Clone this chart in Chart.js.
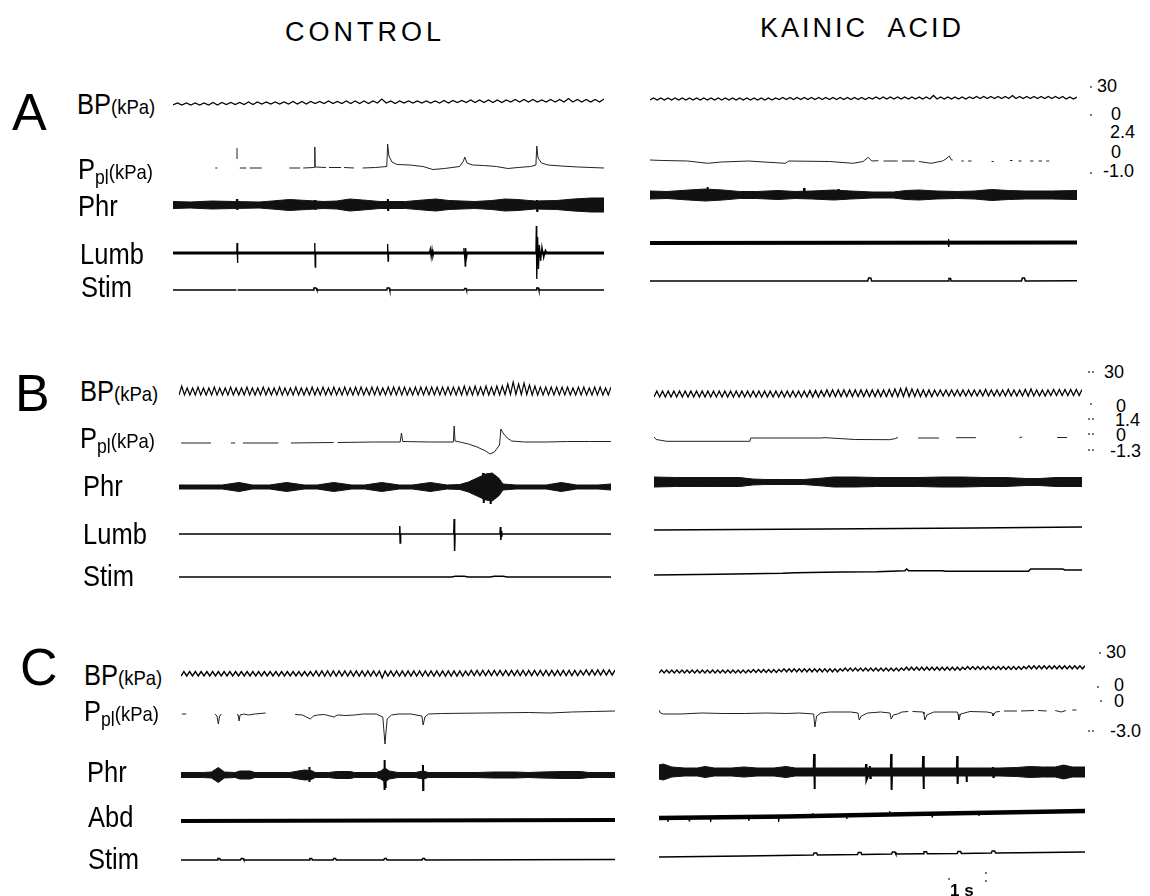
<!DOCTYPE html>
<html>
<head>
<meta charset="utf-8">
<script src="https://cdn.jsdelivr.net/npm/chart.js@4.4.1/dist/chart.umd.min.js"></script>
<style>
body { margin: 0; background: #fff; }
#fig { position: relative; width: 1150px; height: 896px; overflow: hidden; font-family: "Liberation Sans", Arial, sans-serif; color: #000; }
.t { position: absolute; white-space: nowrap; line-height: 1; }
.lab { transform: scaleX(0.88); transform-origin: 0 0; }
.u { font-size: 21px; }
.s { font-size: 20px; position: relative; top: 5px; }
.dot { position: absolute; width: 2px; height: 2px; background: #777; }
canvas { position: absolute; }
</style>
</head>
<body>
<div id="fig"></div>
<script>
// blood pressure: alternating trough / peak per cardiac cycle (px above trace zero)
const bpA_ctrl = [
    0,2,0,2,0,2,0,2,0,2.5,0,2.5,0.5,2.5,
    0.5,2.5,0.5,3,0.5,3,1,3,1,3,1,3,1,3.5,
    1,3.5,1,3.5,1.5,3.5,1.5,4,1.5,3.5,1.5,4,1.5,4,
    1.5,4,1.5,4,2,6,2,4,1.5,4,2,4,2,4,
    2,4,2,4,2,4.5,2,4.5,2.5,4.5,2.5,5,2.5,5,
    2.5,5,2.5,5,2.5,5,3,5.5,3,5.5,3,5.5,3,5,
    3,5.5,3,5.5,3,6.5,3,5.5,3,5.5,3,5.5,3,6
];
const bpA_kain = [
    0,2,0,2,0,2,0,2,0,2,0,2,0,2,0,2,0,2,0,2,
    0,2,0,2,0,2,0,2,0,2,0,2,0,2,0,2,0.5,2.5,0.5,2.5,
    0.5,2.5,0.5,2.5,0.5,2.5,0.5,2.5,0.5,2.5,0.5,2.5,0.5,2.5,0.5,2.5,0.5,2.5,0.5,2.5,
    0.5,2.5,1,3,1,3,1,3,1,3,1,3,1,3,1,3,1,3,1,4.5,
    1,3,1,3,1,3,1,3,1,3,1.5,3.5,1.5,3.5,1.5,3.5,1.5,3.5,1.5,3.5,
    1.5,4.5,1.5,3.5,1.5,3.5,1.5,3.5,1.5,3.5,1.5,3.5,1.5,3.5,1.5,3.5,1,3,1,3
];
const bpB_ctrl = [
    0,9,0,7,0,7,0,8,0,7,0,7,0,8,0,7,0,7,0,8,
    0,7,0,7,0,8,0,7,0,7,0,8,0,7,0,7,0,8,0,7,
    0,7,0,8,0,7,0,7,0,8,0,7,0,8,0,7,0,8,0,7,
    0,8,0,7,0,8,0,8,0,7,0,8,0,8,0,7,0,8,0,8,
    0,8,0,8,0,7,0,8,0,8,0,8,0,8,0,8,0,8,0,8,
    0,8,0,8,0,9,0,8,0,9,0,8,0,9,0,8,0,9,0,9,
    0.5,11,0.5,13,0.5,11,0.5,12,0.5,10,0,9,0,8,0,8,0,8,0,8,
    0,8,0,8,0,7,0,8,0,8,0,7,0,8,0,8,0,7,0,8
];
const bpB_kain = [
    0,6,0,6,0,6,0,6,0,6,0,6,0,6,0,6,0,6,0,6,
    0,6,0,6,0,6,0,6,0,6,0,6,0,6,0,6,0,6,0,6,
    0,6,0,6,0,6,0,6,0,6,0,6,0,6,0,6.5,0,6.5,0,6.5,
    0.5,7,0.5,7,0.5,7,0.5,7,0.5,7,0.5,7,0.5,7,0.5,7,0.5,7,0.5,7,
    0.5,7,0.5,7.5,0.5,8,0.5,8.5,0.5,9,0.5,8,0.5,7.5,0.5,7,0.5,7,0.5,7,
    1,7,1,7,1,7,1,7,1,7,1,7,1,7,1,7,1,7.5,1,7,
    1,7,1,7,1,7.5,1,7,1,7,1,7.5,1,8,1,7,1,7,1,7,
    1.5,7.5,1.5,7.5,1.5,7.5,1.5,7.5,1.5,7.5,1.5,7.5
];
const bpC_ctrl = [
    0,4.5,0,4.5,0,4.5,0,4.5,0,4.5,0,4.5,0,4.5,0,4.5,0,4.5,0,4.5,
    0,4.5,0,4.5,0,4.5,0,4.5,0,4.5,0,4.5,0,4.5,0,4.5,0,4.5,0,4.5,
    0,4.5,0,4.5,0,4.5,0,5,0,5,0,5,0,5,0,5,0,5,0,5,
    0,5,0,5,0,5,0,5,0,5,-2,5,0,5,0,5,0,5,0,5,
    0,5,0,5,0,5,0,5,0,5,0,5,0,5,0,5,0,5,0,5,
    0.5,5.5,0.5,5.5,0.5,5.5,0.5,5.5,0.5,5.5,0.5,5.5,0.5,5.5,0.5,5.5,0.5,5.5,0.5,5.5,
    0.5,5.5,0.5,5.5,0.5,5.5,0.5,5.5,0.5,5.5,0.5,5.5,0.5,5.5,0.5,5.5,0.5,5.5,0.5,5.5,
    1,6,1,6,1,6,1,6,1,6,1,6
];
const bpC_kain = [
    0,3,0,3,0,3,0,3,0,3,0,3,0,3,0,3,0,3,0,3,0,3,0,3,
    0,3,0,3,0,3,0,3,0,3,0,3,0.5,3.5,0.5,3.5,0.5,3.5,0.5,3.5,0.5,3.5,0.5,3.5,
    1.2,4.2,1.2,4.2,1.2,4.2,1.2,4.2,1.2,4.2,1.2,4.2,1.2,4.2,1.2,4.2,1.2,4.2,1.2,4.2,1.2,4.2,1.2,4.2,
    2,5,2,5,2,5,2,5,2,5,2,5,2,5,2,5,2,5,2,5,2,5,2,5,
    2.8,5.8,2.8,5.8,2.8,5.8,2.8,5.8,2.8,5.8,2.8,5.8,2.8,5.8,2.8,5.8,2.8,5.8,2.8,5.8,2.8,5.8,2.8,5.8,
    3.5,6.5,3.5,6.5,3.5,6.5,3.5,6.5,3.5,6.5,3.5,6.5,3.5,6.5,3.5,6.5,3.5,6.5,3.5,6.5,3.5,6.5,3.5,6.5,
    4.2,7.2,4.2,7.2,4.2,7.2,4.2,7.2,4.2,7.2,4.2,7.2,4.2,7.2,4.2,7.2,4.2,7.2,4.2,7.2,4.2,7.2,4.2,7.2
];

// pleural pressure: [x % of sweep, px], null = pen gap
const pplA_ctrl = [
    [9.8,0],[10.3,0],[10.4,null],
    [14.85,9],[14.85,20],[14.9,null],
    [15.5,0],[17,0],[17.1,null],[17.8,0],[20.6,0],[20.7,null],
    [27,0],[29.5,0],[29.6,null],[30.2,0],[32.8,0.5],[32.9,21],[33,1],[35.5,0.5],[35.6,null],
    [36.2,0.5],[39,0.5],[39.1,null],[39.7,0.5],[42,0],[42.1,null],
    [44,0],[47,0.5],[49.6,1.5],[49.8,24],[50.1,12],[50.8,6],[52,3.5],[55,3],[58,1.5],[60.3,-1.5],
    [63,-0.5],[66.5,1.5],[67.4,7],[67.7,11],[68.2,5],[69.5,3],[72,2.5],[75,1.5],[77.7,-0.5],[80,0.5],
    [83,1.5],[84.2,3],[84.4,22],[84.7,10],[85.5,5],[87,3],[90,2],[94,1],[100,0]
];
const pplA_kain = [
    [0,1],[3,0.5],[8.8,0],[13.5,-2.3],[16.7,-1],[23,0],[31.7,-2.3],[32.5,0],[42,-0.5],[47.6,-2.3],
    [49.9,-0.5],[51.1,3.7],[51.9,0],[53.5,0.3],[53.6,null],[54.7,0],[58,0],[58.1,null],[59,0],[62,0],
    [62.1,null],[63,-0.5],[65.8,-2.3],[68.5,0],[69.3,2],[70.1,5],[70.6,1],[70.9,1],[71,null],
    [72.9,0],[73.5,0],[73.6,null],[74.5,0],[75.3,0],[75.4,null],[80,-0.5],[80.5,-0.5],[80.6,null],
    [84.3,0.5],[84.9,0.5],[85,null],[86.3,0],[87,0],[87.1,null],[89,0],[89.8,0],[89.9,null],
    [91,0],[91.8,0],[91.9,null],[92.8,0],[93.5,0]
];
const pplB_ctrl = [
    [0.5,0],[7.4,0],[7.5,null],[12,0],[13,0],[13.1,null],[14.8,0],[23,0],[23.1,null],
    [25.9,0],[35.8,0.5],[35.9,null],[36.7,0.5],[45,1],[51.2,1],[51.5,10],[51.8,1.5],[58,1],
    [63.5,1],[63.7,17],[63.9,2],[65,1],[67,-1],[69,-4],[71,-8],[72,-11],[73,-9],[74.2,-2],
    [74.5,14],[75,10],[76,5],[77,2],[80,1],[85,1],[90,1.5],[95,1.5],[100,1.5]
];
const pplB_kain = [
    [0,1],[0.5,-1.5],[3,-3.3],[22.4,-3.3],[22.6,0],[39,0],[40,0.3],[47,-1.5],[55,-1.7],[56.5,-0.5],
    [57,0.7],[57.2,null],[61.7,0],[66.6,0],[66.8,null],[70.6,0.3],[75.2,0.3],[75.4,null],
    [85.4,0.3],[86,1],[86.2,null],[94.2,0.5],[96.5,0.5]
];
const pplC_ctrl = [
    [0.2,0],[1.2,0],[1.3,null],
    [7.8,0],[8.3,-2],[8.6,-10],[8.9,-2],[9.3,0],[9.4,null],
    [13,0],[13.2,-2],[13.4,-7],[13.6,-1],[14.5,0],[15.5,-1],[17,0],[19.5,1],[19.7,null],
    [26.3,-0.5],[28,-1],[29.8,-5],[30.5,-2],[31.5,-1],[33,-0.5],[35.3,-3],[36,-1],[38,-1.5],[40,-1],
    [42,0],[45,0],[46.5,-3],[47,-30],[47.5,-5],[48.5,-1],[50,0],[53,0],[55.5,-2],[55.8,-11],[56.2,-3],
    [57,0],[60,0.5],[70,1],[80,1.5],[85,1],[90,2],[95,2.5],[100,3]
];
const pplC_kain = [
    [0,2],[0.3,-1],[1,-2],[5,-2],[10,-1],[15,-1.5],[20,-1.5],[25,-1],[30,-1.5],[33,-1],[36.3,-2],
    [36.6,-15],[37,-4],[38,-1],[40,0],[45,0],[46.7,-1],[47,-8],[47.5,-4],[49,-1],[52,0],[54.2,-1],
    [54.5,-7],[55,-3],[56,-2],[57,0],[58.5,0.5],[58.6,null],[59.5,0.5],[62,0],[62.2,-2],[62.4,-8],
    [62.9,-3],[64.5,0],[70,0],[70.2,-2],[70.4,-8],[70.8,-2],[73,0.5],[77,0],[78.2,-1],[78.4,-4],
    [79,0],[80,0.5],[80.1,null],[81,1],[84,1],[84.1,null],[85,1],[88,1.5],[88.1,null],[89,1.5],
    [91,1],[91.1,null],[93,1.5],[94.4,0],[95.5,1.5],[95.6,null],[97,2],[98,2]
];

// phrenic activity: envelope half-height (px) along the sweep, plus single spikes
const phrA_ctrl_x = [0,4,9,14,20,23,27,31,35,38,41,44,48,54,58,61,64,70,74,77,80,84,89,93,97,100];
const phrA_ctrl_h = [3.5,3,4,3.5,3,4,5.5,4.5,3.5,4,6,5,3.5,3.5,5,6,4.5,3.5,4.5,6,5.5,4,4.5,6,7,7];
const phrA_ctrl_spk = [[0,0],[14.8,0],[14.85,6],[14.9,-5],[14.95,0],[32.9,0],[32.95,5],[33,-5],[33.05,0],
    [49.8,0],[49.85,6],[49.9,-5],[49.95,0],[84.4,0],[84.45,5],[84.5,-6],[84.55,0],[100,0]];
const phrA_kain_x = [0,4,9,13,17,21,25,30,34,38,43,47,52,57,60,63,67,72,76,80,84,88,94,100];
const phrA_kain_h = [4,3.5,5,6,5,3.5,3.5,4.5,3.5,4,5,4,3,3,4.5,5,4,3.5,4,5.5,4.5,4,4,4.5];
const phrA_kain_spk = [[0,0],[13.4,0],[13.5,8],[13.6,0],[36,0],[36.1,7],[36.2,0],[44,0],[44.1,6],[44.2,0],[100,0]];
const phrB_ctrl_x = [0,5,10,13.9,17,21,24.9,29,32,35.8,40,43,46.9,51,54,58.2,62,65,67,69,71,72.5,74,75,78,85,88.5,92,97,100];
const phrB_ctrl_h = [2,2,2,4.5,2,2,4.5,2,2,4.5,2,2,4.5,2,2,4.5,2,2.5,5,9,13,14,9,3,2,2,4.5,2,2,3];
const phrB_ctrl_spk = [[0,0],[70.3,0],[70.4,14],[70.5,-16],[70.6,0],[72,0],[72.1,12],[72.2,-17],[72.3,0],[100,0]];
const phrB_kain_x = [0,5,10,15,20,23,26,30,35,39.5,42,47,52,57,62,67,72,77,82,87,90,94,100];
const phrB_kain_h = [5,4.5,4.5,4.5,4.5,3,2.5,2.5,2.5,4,5,5,4.5,4.5,4.5,5,5,4.5,4.5,3.5,3.5,4.5,4.5];
const phrB_kain_spk = [[0,0],[100,0]];
const phrC_ctrl_x = [0,5,7,8.6,10,12.5,13.5,16,17,25,27,28.5,30,31,34,36,39,40,45,46,47,48,50,54,55.8,57,59,62,68,72,77,80,83,88,92,94,100];
const phrC_ctrl_h = [2.5,2.5,3,7.5,3,2.5,4,4,2.5,2.5,4,5,4.5,2.5,2.5,3.5,3.5,2.5,2.5,4,7,4,2.5,2.5,4,2.5,2.5,2.5,2.5,3,3,2.5,3,3.5,3.5,2.5,2.5];
const phrC_ctrl_spk = [[0,0],[29.5,0],[29.55,8],[29.6,-7],[29.65,0],[46.8,0],[46.85,15],[46.9,-15],[47,10],[47.1,-12],
    [47.15,0],[55.7,0],[55.75,10],[55.8,-15],[55.85,0],[100,0]];
const phrC_kain_x = [0,1,3,6,9,10.8,13,17,20,23,27,29.8,32,36,40,45,50,55,60,65,70,75,80,84,87,90,93,95,97,100];
const phrC_kain_h = [7,8,5,4,4,5.5,4,4,5,4,4,5.5,4,4,4,4,4,4,4,4,4,4,4,4.5,5.5,5,5,7,5,5];
const phrC_kain_spk = [[0,0],[36.3,0],[36.4,18],[36.5,-17],[36.6,0],[48.5,0],[48.6,8],[48.7,-8],[49.4,0],[49.5,6],
    [49.6,-6],[49.7,0],[54.4,0],[54.5,18],[54.6,-18],[54.7,0],[61.9,0],[62,16],[62.1,-17],[62.2,0],
    [69.9,0],[70,16],[70.1,-12],[70.2,0],[72,0],[72.1,4],[72.2,-10],[72.3,0],[78.3,0],[78.4,5],[78.5,-5],
    [78.6,0],[94.3,0],[94.4,5],[94.5,-5],[94.6,0],[100,0]];

// lumbar / abdominal nerve
const lumbA_ctrl_base = [[0,0],[100,0]];
const lumbA_ctrl_spk = [[0,0],[14.8,0],[14.85,10],[14.95,-10],[15.05,0],[32.8,0],[32.9,10],[33,-14],[33.1,0],
    [49.7,0],[49.8,9],[49.9,-8],[50,0],[59.5,0],[59.7,4],[59.9,-4],[60.1,3.5],[60.3,-3.5],[60.5,0],
    [67.3,0],[67.5,5],[67.7,-5],[67.8,-13],[67.9,5],[68.1,-5],[68.3,0],
    [84.2,0],[84.3,27],[84.4,-26],[84.6,16],[84.8,-16],[85,8],[85.3,-8],[85.6,6],[86,-5],[86.4,3],[86.8,0],[100,0]];
const lumbA_kain_base = [[0,0],[100,0.5]];
const lumbA_kain_spk = [[0,0],[69.8,0.3],[69.9,4],[70,-4],[70.1,0.3],[100,0.5]];
const lumbB_ctrl = [[0,0],[51,0],[51.1,8],[51.2,-9],[51.3,0],[63.6,0],[63.7,15],[63.8,-17],[63.9,0],
    [74.3,0],[74.4,7],[74.5,-6],[74.6,3],[74.7,-3],[74.8,0],[100,0]];
const lumbB_kain = [[0,0],[40,1],[75,2],[100,3]];
const abdC_ctrl = [[0,0],[100,1]];
const abdC_kain_base = [[0,0],[30,1.5],[60,4],[100,7]];
const abdC_kain_spk = [[0,0],[2,0],[2.1,-4],[2.2,0],[7,0.3],[7.1,-3],[7.2,0.3],[12,0.6],[12.1,-4],[12.2,0.6],
    [21,1],[21.1,-3],[21.2,1],[28,1.4],[28.1,-4],[28.2,1.4],[36,2],[36.1,5],[36.2,2],[44,2.7],[44.1,-1],
    [44.2,2.7],[54,3.5],[54.1,7],[54.2,3.5],[64,4.3],[64.1,1],[64.2,4.3],[75,5.2],[75.1,2],[75.2,5.2],[100,7]];

// stimulus marker
const stimA_ctrl = [[0,0],[14.7,0],[14.8,null],[15,0],[32.5,0],[32.7,2],[33.2,2],[33.4,0],[49.6,0],[49.7,2],[50.2,2],
    [50.3,0],[67.5,0],[67.7,1.5],[68,1.5],[68.1,0],[84.3,0],[84.4,2],[84.8,2],[84.9,0],[100,0]];
const stimA_kain = [[0,0],[51,0],[51.2,3],[51.7,3],[51.9,0],[69.9,0],[70,2.5],[70.4,2.5],[70.5,0],[87,0],[87.2,3],
    [87.7,3],[87.9,0],[100,0.3]];
const stimB_ctrl = [[0,0],[63,0],[64,0.7],[66,0.7],[67,0],[72,0],[73,0.7],[75,0.7],[76,0],[100,0]];
const stimB_kain = [[0,0],[15,0.7],[30,1.7],[33,2.3],[40,2.7],[44,3],[52,3.3],[58.6,4.3],[59,6],[59.5,4.3],[63,4.3],
    [67.5,4.3],[68,3.7],[87.5,3.7],[88,6],[95.5,6],[96,5],[100,5]];
const stimC_ctrl = [[0,0],[8.3,0],[8.5,1.5],[8.9,1.5],[9.1,0],[13.7,0],[13.9,1.5],[14.3,1.5],[14.5,0],[29.5,0],
    [29.7,1.5],[30.1,1.5],[30.3,0],[35,0],[35.2,1.5],[35.6,1.5],[35.8,0],[46.7,0],[46.9,1.5],[47.3,1.5],
    [47.5,0],[55.5,0],[55.7,1.5],[56.1,1.5],[56.3,0],[100,0.5]];
const stimC_kain = [[0,0],[20,1],[36.2,2],[36.4,4],[37,4],[37.2,2],[46.6,2.5],[46.8,4.5],[47.4,4.5],[47.6,2.5],
    [54.6,3],[54.8,5],[55.4,5],[55.6,3],[62,3.3],[62.2,5.3],[62.8,5.3],[63,3.3],[70,3.6],[70.2,5.6],
    [70.8,5.6],[71,3.6],[78,4],[78.2,6],[78.8,6],[79,4],[90,4.5],[100,5]];

// calibration numbers at the right edge
const calA = [['30', 1097, 92], ['0', 1111, 120], ['2.4', 1110, 138], ['0', 1111, 158], ['-1.0', 1103, 177]];
const calB = [['30', 1104, 378], ['0', 1116, 412], ['1.4', 1115, 426], ['0', 1116, 441], ['-1.3', 1110, 457]];
const calC = [['30', 1106, 658], ['0', 1114, 691], ['0', 1114, 707], ['-3.0', 1110, 737]];

const fig = document.getElementById('fig');

function wave(values, width) {
    return {
        data: values.map((v, i) => [i * 100 / (values.length - 1), v]),
        borderColor: '#000', borderWidth: width, pointRadius: 0
    };
}

function path(points, width, color) {
    return { data: points, borderColor: color || '#000', borderWidth: width, pointRadius: 0 };
}

function band(xs, hs, spikes) {
    return [
        { data: xs.map((x, i) => [x, hs[i]]), borderColor: '#111', borderWidth: 1, pointRadius: 0 },
        { data: xs.map((x, i) => [x, -hs[i]]), borderColor: '#111', borderWidth: 1, pointRadius: 0,
          fill: '-1', backgroundColor: '#111' },
        path(spikes, 2)
    ];
}

function drawTrace(left, right, zeroY, datasets) {
    const H = 80;
    const c = document.createElement('canvas');
    c.width = right - left;
    c.height = H;
    c.style.left = left + 'px';
    c.style.top = (zeroY - H / 2) + 'px';
    fig.appendChild(c);
    new Chart(c, {
        type: 'line',
        data: { datasets },
        options: {
            responsive: false,
            animation: false,
            events: [],
            layout: { padding: 0 },
            plugins: { legend: { display: false }, tooltip: { enabled: false } },
            elements: { line: { tension: 0 }, point: { radius: 0 } },
            scales: {
                x: { type: 'linear', display: false, min: 0, max: 100 },
                y: { display: false, min: -H / 2, max: H / 2 }
            }
        }
    });
}

function text(html, left, base, fs, cls, style) {
    const d = document.createElement('div');
    d.className = 't ' + (cls || '');
    d.innerHTML = html;
    d.style.left = left + 'px';
    d.style.top = (base - 0.8465 * fs) + 'px';
    d.style.fontSize = fs + 'px';
    if (style) d.style.cssText += style;
    fig.appendChild(d);
}

function dot(x, y) {
    const d = document.createElement('div');
    d.className = 'dot';
    d.style.left = x + 'px';
    d.style.top = y + 'px';
    fig.appendChild(d);
}

// panel A
drawTrace(173, 604, 105, [wave(bpA_ctrl, 1.2)]);
drawTrace(173, 604, 168, [path(pplA_ctrl, 1, '#222')]);
drawTrace(173, 604, 205, band(phrA_ctrl_x, phrA_ctrl_h, phrA_ctrl_spk));
drawTrace(173, 604, 253, [path(lumbA_ctrl_base, 3), path(lumbA_ctrl_spk, 1.3)]);
drawTrace(173, 604, 290, [path(stimA_ctrl, 1.5)]);
drawTrace(650, 1077, 100, [wave(bpA_kain, 1.3)]);
drawTrace(650, 1077, 161, [path(pplA_kain, 1, '#222')]);
drawTrace(650, 1077, 195, band(phrA_kain_x, phrA_kain_h, phrA_kain_spk));
drawTrace(650, 1077, 243, [path(lumbA_kain_base, 4), path(lumbA_kain_spk, 1.2)]);
drawTrace(650, 1077, 281, [path(stimA_kain, 1.5)]);

// panel B
drawTrace(179, 611, 395, [wave(bpB_ctrl, 1.2)]);
drawTrace(179, 611, 443, [path(pplB_ctrl, 1, '#222')]);
drawTrace(179, 611, 487, band(phrB_ctrl_x, phrB_ctrl_h, phrB_ctrl_spk));
drawTrace(179, 611, 534, [path(lumbB_ctrl, 1.5)]);
drawTrace(179, 611, 577, [path(stimB_ctrl, 1.5)]);
drawTrace(654, 1082, 397, [wave(bpB_kain, 1.3)]);
drawTrace(654, 1082, 438, [path(pplB_kain, 1, '#222')]);
drawTrace(654, 1082, 482, band(phrB_kain_x, phrB_kain_h, phrB_kain_spk));
drawTrace(654, 1082, 530, [path(lumbB_kain, 1.6)]);
drawTrace(654, 1082, 575, [path(stimB_kain, 1.5)]);

// panel C
drawTrace(181, 615, 676, [wave(bpC_ctrl, 1.4)]);
drawTrace(181, 615, 714, [path(pplC_ctrl, 1, '#222')]);
drawTrace(181, 615, 775, band(phrC_ctrl_x, phrC_ctrl_h, phrC_ctrl_spk));
drawTrace(181, 615, 821, [path(abdC_ctrl, 4)]);
drawTrace(181, 615, 860, [path(stimC_ctrl, 1.5)]);
drawTrace(659, 1085, 673, [wave(bpC_kain, 1.4)]);
drawTrace(659, 1085, 712, [path(pplC_kain, 1, '#222')]);
drawTrace(659, 1085, 772, band(phrC_kain_x, phrC_kain_h, phrC_kain_spk));
drawTrace(659, 1085, 818, [path(abdC_kain_base, 4.5), path(abdC_kain_spk, 1.2)]);
drawTrace(659, 1085, 857, [path(stimC_kain, 1.5)]);

// titles and labels
text('CONTROL', 165, 42, 27, '', 'width:400px;text-align:center;letter-spacing:4px;');
text('KAINIC&nbsp; ACID', 662, 38, 27, '', 'width:400px;text-align:center;letter-spacing:3px;');
text('A', 12, 130, 52);
text('B', 15, 411, 52);
text('C', 20, 685, 52);

const BP = 'BP<span class="u">(kPa)</span>';
const PPL = 'P<span class="s">pl</span><span class="u">(kPa)</span>';
text(BP, 77, 115, 29, 'lab');
text(PPL, 78, 180, 29, 'lab');
text('Phr', 78, 217, 29, 'lab');
text('Lumb', 80, 265, 29, 'lab');
text('Stim', 81, 298, 29, 'lab');
text(BP, 80, 402, 29, 'lab');
text(PPL, 80, 449, 29, 'lab');
text('Phr', 83, 497, 29, 'lab');
text('Lumb', 83, 545, 29, 'lab');
text('Stim', 83, 587, 29, 'lab');
text(BP, 84, 686, 29, 'lab');
text(PPL, 84, 722, 29, 'lab');
text('Phr', 87, 783, 29, 'lab');
text('Abd', 88, 828, 29, 'lab');
text('Stim', 88, 870, 29, 'lab');

[calA, calB, calC].forEach(cal => cal.forEach(([s, x, b]) => text(s, x, b, 18)));
// faint pen dots next to the calibration numbers
[[1090, 86], [1090, 114], [1090, 172], [1088, 371], [1092, 371], [1090, 403], [1088, 418], [1092, 418],
 [1088, 433], [1092, 433], [1088, 449], [1092, 449], [1099, 652], [1097, 686], [1100, 700],
 [1088, 730], [1092, 730]].forEach(([x, y]) => dot(x, y));

text('1 s', 950, 896, 17, '', 'font-weight:bold;');
dot(948, 878);
dot(985, 872);
dot(985, 880);
</script>
</body>
</html>
